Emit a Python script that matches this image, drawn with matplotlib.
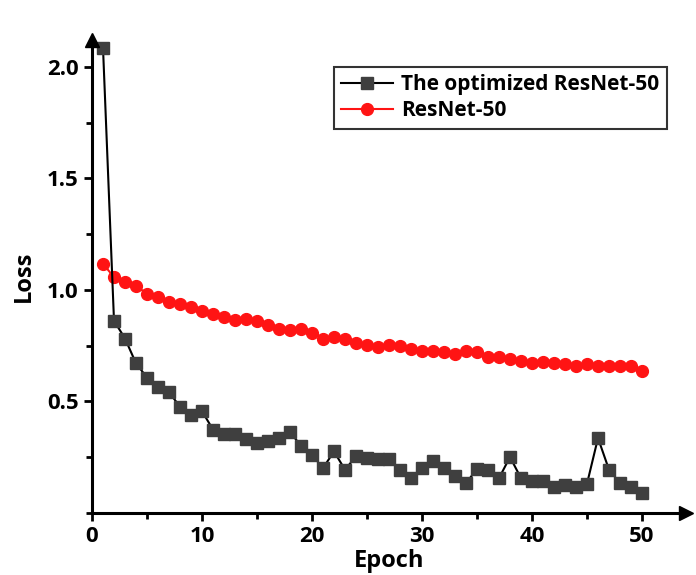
import numpy as np
import matplotlib
matplotlib.use("Agg")
import matplotlib.pyplot as plt
from matplotlib.ticker import MultipleLocator

plt.rcParams['font.family'] = ['Open Sans', 'DejaVu Sans']

# Loss per epoch
epochs = list(range(1, 51))
loss_optimized = [
    2.085, 0.862, 0.782, 0.671, 0.607, 0.566, 0.542, 0.476, 0.441, 0.456,
    0.374, 0.354, 0.354, 0.332, 0.314, 0.321, 0.336, 0.362, 0.302, 0.261,
    0.201, 0.276, 0.194, 0.254, 0.246, 0.240, 0.242, 0.194, 0.159, 0.201,
    0.231, 0.201, 0.164, 0.134, 0.197, 0.194, 0.156, 0.251, 0.156, 0.145,
    0.145, 0.116, 0.126, 0.116, 0.131, 0.336, 0.194, 0.134, 0.116, 0.089,
]
loss_resnet50 = [
    1.117, 1.057, 1.035, 1.019, 0.982, 0.967, 0.947, 0.937, 0.922, 0.907,
    0.892, 0.880, 0.866, 0.869, 0.862, 0.842, 0.824, 0.820, 0.824, 0.806,
    0.782, 0.787, 0.779, 0.761, 0.754, 0.746, 0.752, 0.748, 0.737, 0.727,
    0.727, 0.720, 0.712, 0.727, 0.720, 0.697, 0.697, 0.689, 0.682, 0.674,
    0.679, 0.674, 0.667, 0.659, 0.667, 0.659, 0.659, 0.659, 0.659, 0.635,
]
series_labels = ['The optimized ResNet-50', 'ResNet-50']

fig = plt.figure(figsize=(6.96, 5.75), dpi=100)
ax = fig.add_axes([92 / 696, 62 / 575, 594 / 696, 473 / 575])

ax.plot(epochs, loss_resnet50, '-o', color='#ff1414', markerfacecolor='#ff1414',
        markeredgecolor='#ff1414', markersize=8.5, linewidth=1.5, label=series_labels[1])
ax.plot(epochs, loss_optimized, '-s', color='black', markerfacecolor='#3f3f3f',
        markeredgecolor='#3f3f3f', markersize=8.5, linewidth=1.5, label=series_labels[0])

ax.set_xlim(0, 54)
ax.set_ylim(0, 2.12)
ax.xaxis.set_major_locator(MultipleLocator(10))
ax.xaxis.set_minor_locator(MultipleLocator(5))
ax.yaxis.set_minor_locator(MultipleLocator(0.25))
ax.set_yticks([0.5, 1.0, 1.5, 2.0])

for side in ('top', 'right'):
    ax.spines[side].set_visible(False)
for side in ('left', 'bottom'):
    ax.spines[side].set_linewidth(2.2)

ax.tick_params(which='major', direction='out', length=6, width=2, labelsize=16)
ax.tick_params(which='minor', direction='out', length=4, width=2)
for lbl in ax.get_xticklabels() + ax.get_yticklabels():
    lbl.set_fontweight('bold')

# arrow heads on the axes
ax.plot(1, 0, '>k', markersize=10, transform=ax.get_yaxis_transform(), clip_on=False)
ax.plot(0, 1, '^k', markersize=10, transform=ax.get_xaxis_transform(), clip_on=False)

ax.set_xlabel('Epoch', fontsize=17, fontweight='bold', labelpad=1)
ax.set_ylabel('Loss', fontsize=17, fontweight='bold', labelpad=8)

handles, labels = ax.get_legend_handles_labels()
leg = ax.legend(handles[::-1], labels[::-1], loc='upper right',
                bbox_to_anchor=(0.985, 0.965), frameon=True, fancybox=False,
                edgecolor='black', handlelength=2.5, handletextpad=0.4, borderpad=0.35,
                labelspacing=0.25, prop={'weight': 'bold', 'size': 15})
leg.get_frame().set_linewidth(1.5)

fig.savefig('out.png', dpi=100)
